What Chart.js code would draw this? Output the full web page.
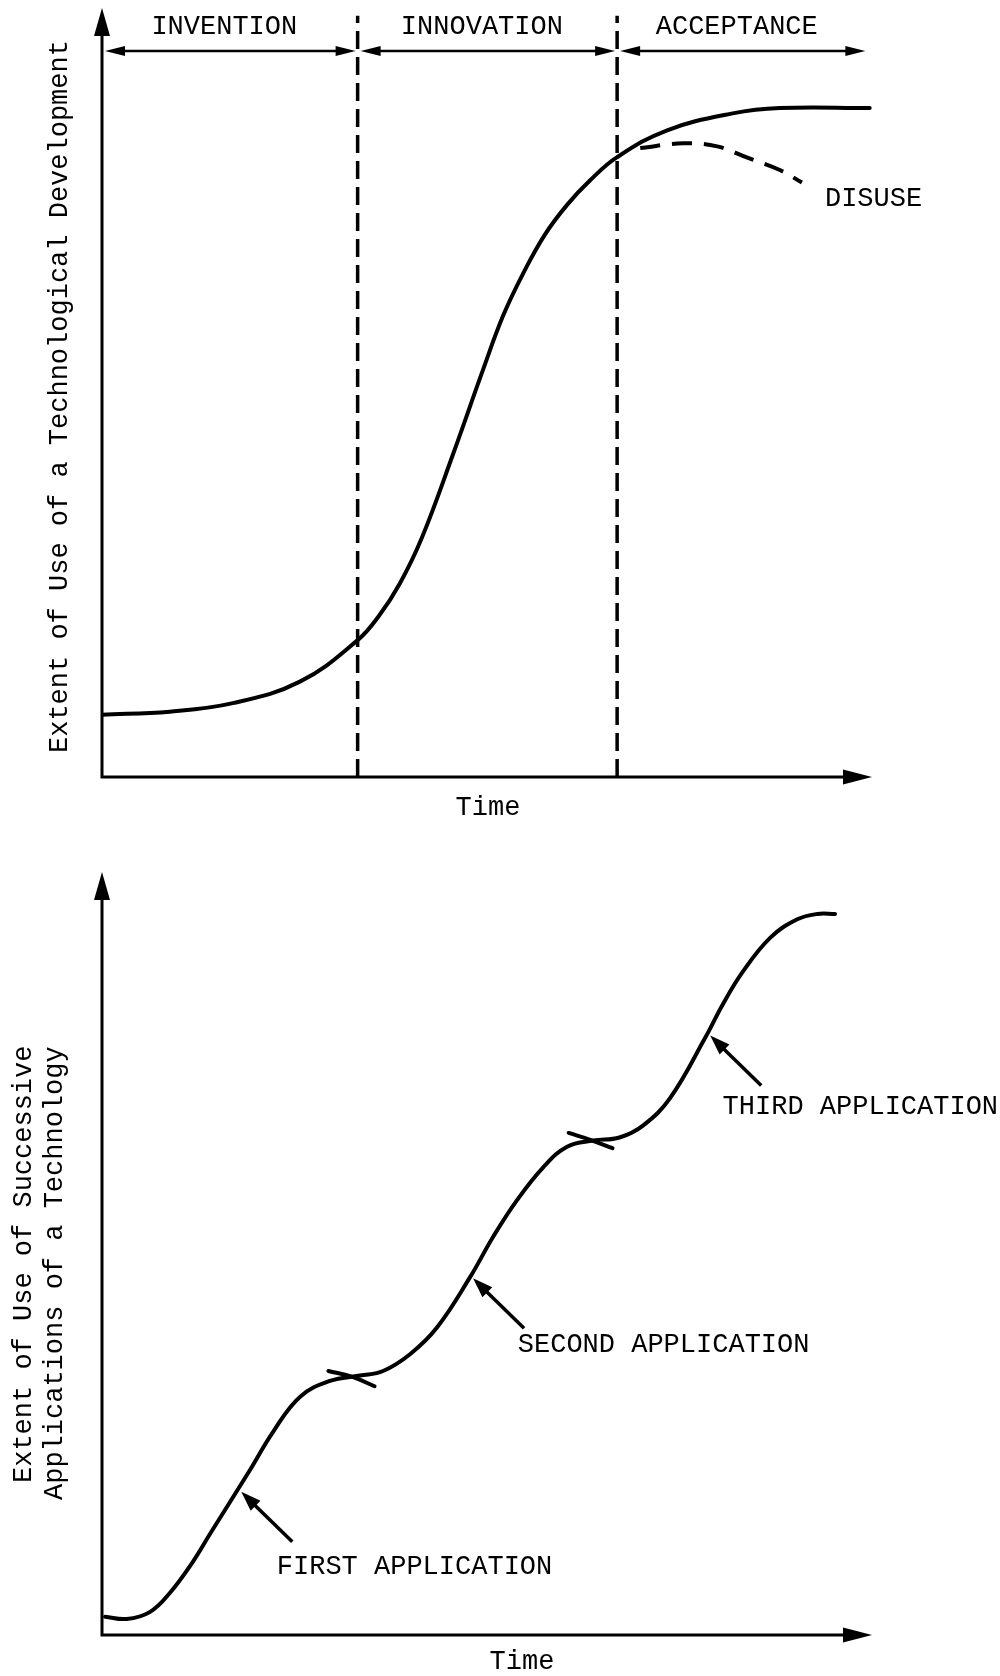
<!DOCTYPE html>
<html><head><meta charset="utf-8">
<script src="https://cdn.jsdelivr.net/npm/chart.js@4"></script>
<style>
html,body{margin:0;padding:0;background:#fff;}
#wrap{position:relative;width:1000px;height:1676px;overflow:hidden;}
.c{position:absolute;left:0;width:1000px;height:838px;}
</style></head><body>
<div id="wrap">
<div class="c" style="top:0"><canvas id="topChart"></canvas></div>
<div class="c" style="top:838px"><canvas id="botChart"></canvas></div>
</div>
<script>
// ---------- DATA (top: adoption S-curve) ----------
const topCurveX = [0, 8.8, 17.0, 25.7, 33.2, 36.0, 38.7, 41.5, 45.6, 49.5, 52.1, 54.7, 57.5, 60.4, 63.4, 66.9, 73.4, 81.9, 88.0, 99.7];
const topCurveY = [8.1, 8.5, 9.6, 12.4, 17.8, 21.0, 25.2, 31.0, 42.0, 53.0, 60.0, 65.5, 70.5, 74.4, 77.6, 80.6, 84.1, 86.3, 87.0, 87.0];
const disuseX = [69.9, 75.5, 79.9, 83.9, 88.1, 90.9];
const disuseY = [81.8, 82.4, 82.0, 80.5, 78.9, 77.3];
const phaseNames = ['INVENTION', 'INNOVATION', 'ACCEPTANCE'];
const phaseBounds = [0, 33.2, 66.9, 99.4];
const phaseArrowLevel = 94.4;
const phaseLineTop = 99.0;
const topYTitle = 'Extent of Use of a Technological Development';
const xTitle = 'Time';
const disuseLabel = 'DISUSE';

// ---------- DATA (bottom: successive applications) ----------
const botCurveX = [0.4, 3.2, 6.2, 8.8, 11.8, 14.0, 19.2, 22.2, 25.7, 29.6, 33.5, 36.5, 40.0, 43.5, 47.8, 50.8, 53.9, 57.3, 60.4, 63.8, 67.2, 70.3, 73.8, 78.3, 80.6, 83.2, 86.8, 90.3, 92.9, 95.2];
const botCurveY = [2.4, 2.1, 3.0, 5.5, 9.6, 13.2, 21.6, 26.6, 31.2, 33.3, 34.0, 34.6, 36.8, 40.3, 46.9, 52.2, 57.0, 61.3, 64.0, 64.8, 65.2, 66.8, 70.4, 78.2, 82.6, 86.9, 91.4, 93.8, 94.5, 94.5];
const cusp1X = [29.4, 32.6, 35.4];
const cusp1Y = [34.6, 33.8, 32.6];
const cusp2X = [60.6, 63.4, 66.3];
const cusp2Y = [65.8, 64.9, 63.8];
const appLabels = ['FIRST APPLICATION', 'SECOND APPLICATION', 'THIRD APPLICATION'];
const appTipX = [17.7, 47.8, 78.6];
const appTipY = [18.9, 46.9, 78.7];
const appLabelX = [22.7, 54.0, 80.6];
const appLabelY = [8.9, 38.0, 69.2];
const botYTitle = ['Extent of Use of Successive', 'Applications of a Technology'];

// ---------- helpers ----------
const INK = '#000';
const FONT = '27px "Liberation Mono", "Courier New", monospace';
Chart.defaults.font.family = '"Liberation Mono", monospace';
function pts(xs, ys) { return xs.map((x, i) => ({x: x, y: ys[i]})); }
function arrowHead(ctx, tx, ty, fx, fy, len, hw) {
  const a = Math.atan2(ty - fy, tx - fx);
  ctx.beginPath();
  ctx.moveTo(tx, ty);
  ctx.lineTo(tx - len * Math.cos(a) + hw * Math.sin(a), ty - len * Math.sin(a) - hw * Math.cos(a));
  ctx.lineTo(tx - len * Math.cos(a) - hw * Math.sin(a), ty - len * Math.sin(a) + hw * Math.cos(a));
  ctx.closePath();
  ctx.fill();
}
function drawAxes(ctx, area) {
  ctx.save();
  ctx.strokeStyle = INK; ctx.fillStyle = INK; ctx.lineWidth = 3; ctx.lineCap = 'butt';
  ctx.beginPath();
  ctx.moveTo(area.left, area.bottom + 1.5);
  ctx.lineTo(area.left, area.top + 20);
  ctx.moveTo(area.left - 1.5, area.bottom);
  ctx.lineTo(area.right - 20, area.bottom);
  ctx.stroke();
  arrowHead(ctx, area.left, area.top, area.left, area.top + 10, 28, 8);
  arrowHead(ctx, area.right, area.bottom, area.right - 10, area.bottom, 29, 7.5);
  ctx.restore();
}
function baseOpts(pad) {
  return {
    responsive: true, maintainAspectRatio: false, animation: false,
    layout: {padding: pad},
    plugins: {legend: {display: false}, tooltip: {enabled: false}},
    scales: {
      x: {type: 'linear', display: false, min: 0, max: 100},
      y: {type: 'linear', display: false, min: 0, max: 100}
    },
    elements: {point: {radius: 0}, line: {capBezierPoints: true, borderCapStyle: 'round'}}
  };
}

// ---------- TOP CHART ----------
const topPlugin = {
  id: 'topDecor',
  afterDatasetsDraw(chart) {
    const ctx = chart.ctx, a = chart.chartArea;
    const xs = chart.scales.x, ys = chart.scales.y;
    drawAxes(ctx, a);
    ctx.save();
    ctx.fillStyle = INK; ctx.strokeStyle = INK;
    const ay = ys.getPixelForValue(phaseArrowLevel);
    ctx.lineWidth = 2.5;
    for (let i = 0; i < phaseNames.length; i++) {
      const x1 = xs.getPixelForValue(phaseBounds[i]) + 3;
      const x2 = xs.getPixelForValue(phaseBounds[i + 1]) - 2;
      ctx.beginPath(); ctx.moveTo(x1 + 10, ay); ctx.lineTo(x2 - 10, ay); ctx.stroke();
      arrowHead(ctx, x1, ay, x1 + 10, ay, 20, 5);
      arrowHead(ctx, x2, ay, x2 - 10, ay, 20, 5);
      ctx.font = FONT; ctx.textAlign = 'center'; ctx.textBaseline = 'middle';
      ctx.fillText(phaseNames[i], (x1 + x2) / 2 - 6, ay - 24);
    }
    ctx.font = FONT; ctx.textAlign = 'center'; ctx.textBaseline = 'middle';
    ctx.fillText(xTitle, (a.left + a.right) / 2 + 1, a.bottom + 31);
    const dx = xs.getPixelForValue(disuseX[disuseX.length - 1]);
    const dy = ys.getPixelForValue(disuseY[disuseY.length - 1]);
    ctx.textAlign = 'left';
    ctx.fillText(disuseLabel, dx + 23, dy + 16);
    ctx.translate(60, a.bottom - 24);
    ctx.rotate(-Math.PI / 2);
    ctx.textAlign = 'left'; ctx.textBaseline = 'middle';
    ctx.fillText(topYTitle, 0, 0);
    ctx.restore();
  }
};
new Chart(document.getElementById('topChart'), {
  type: 'line',
  data: {datasets: [
    {data: pts(topCurveX, topCurveY), borderColor: INK, borderWidth: 4, tension: 0.4, fill: false},
    {data: pts(disuseX, disuseY), borderColor: INK, borderWidth: 4, borderDash: [20, 12], borderCapStyle: 'butt', tension: 0.4, fill: false},
    {data: [{x: phaseBounds[1], y: 0}, {x: phaseBounds[1], y: phaseLineTop}], borderColor: INK, borderWidth: 3.5, borderDash: [18, 8], borderCapStyle: 'butt', fill: false},
    {data: [{x: phaseBounds[2], y: 0}, {x: phaseBounds[2], y: phaseLineTop}], borderColor: INK, borderWidth: 3.5, borderDash: [18, 8], borderCapStyle: 'butt', fill: false}
  ]},
  options: baseOpts({left: 102, right: 128, top: 8, bottom: 61}),
  plugins: [topPlugin]
});

// ---------- BOTTOM CHART ----------
const botPlugin = {
  id: 'botDecor',
  afterDatasetsDraw(chart) {
    const ctx = chart.ctx, a = chart.chartArea;
    const xs = chart.scales.x, ys = chart.scales.y;
    drawAxes(ctx, a);
    ctx.save();
    ctx.fillStyle = INK; ctx.strokeStyle = INK;
    ctx.font = FONT; ctx.textBaseline = 'middle';
    for (let i = 0; i < appLabels.length; i++) {
      const tx = xs.getPixelForValue(appTipX[i]) + 3, ty = ys.getPixelForValue(appTipY[i]) + 1;
      const fx = tx + 51, fy = ty + 50;
      ctx.lineWidth = 3.5;
      ctx.beginPath(); ctx.moveTo(fx, fy); ctx.lineTo(tx + 10, ty + 10); ctx.stroke();
      arrowHead(ctx, tx, ty, fx, fy, 20, 7);
      ctx.textAlign = 'left';
      ctx.fillText(appLabels[i], xs.getPixelForValue(appLabelX[i]), ys.getPixelForValue(appLabelY[i]));
    }
    ctx.textAlign = 'center';
    ctx.fillText(xTitle, (a.left + a.right) / 2 + 35, a.bottom + 27);
    ctx.save();
    ctx.translate(24, a.bottom - 152);
    ctx.rotate(-Math.PI / 2);
    ctx.textAlign = 'left';
    ctx.fillText(botYTitle[0], 0, 0);
    ctx.restore();
    ctx.save();
    ctx.translate(55, a.bottom - 135);
    ctx.rotate(-Math.PI / 2);
    ctx.textAlign = 'left';
    ctx.fillText(botYTitle[1], 0, 0);
    ctx.restore();
    ctx.restore();
  }
};
new Chart(document.getElementById('botChart'), {
  type: 'line',
  data: {datasets: [
    {data: pts(botCurveX, botCurveY), borderColor: INK, borderWidth: 4, tension: 0.4, fill: false},
    {data: pts(cusp1X, cusp1Y), borderColor: INK, borderWidth: 4, tension: 0.4, fill: false},
    {data: pts(cusp2X, cusp2Y), borderColor: INK, borderWidth: 4, tension: 0.4, fill: false}
  ]},
  options: baseOpts({left: 102, right: 128, top: 34, bottom: 41}),
  plugins: [botPlugin]
});
</script>
</body></html>
